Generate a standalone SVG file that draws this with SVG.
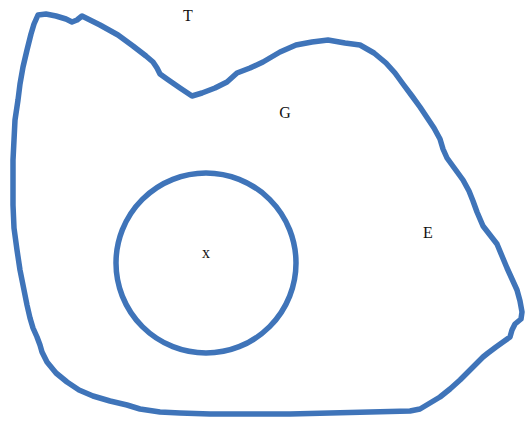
<svg xmlns="http://www.w3.org/2000/svg" width="526" height="421" viewBox="0 0 526 421">
<style>
.ln{fill:none;stroke:#3f74b9;stroke-width:5.5;stroke-linejoin:round;stroke-linecap:round}
.lb{font-family:"Liberation Serif",serif;font-size:16px;fill:#111;text-anchor:middle}
</style>
<rect width="526" height="421" fill="#fff"/>
<g id="T-region">
<path class="ln" d="M38,15 L46,14 L56,16 L66,19 L72,22 L77,20 L82,16 L90,20 L100,25 L118,35 L133,46 L146,56 L153,62 L157,68 L160,74 L167,79 L180,88 L192,96 L202,93 L215,88 L227,82 L237,73 L250,68 L263,62 L280,52 L296,45 L312,42 L328,40 L345,43 L360,45 L374,53 L386,63 L395,73 L403,84 L412,96 L420,107 L428,119 L434,128 L440,139 L443,149 L447,158 L455,169 L463,180 L469,191 L473,201 L477,212 L483,226 L490,235 L497,244 L502,256 L507,268 L512,279 L517,290 L520,301 L522,312 L521,319 L515,324 L512,330 L510,337 L503,342 L496,347 L488,353 L483,357 L477,363 L470,370 L460,380 L450,389 L440,397 L430,403 L420,409 L410,411 L370,412 L330,413 L290,414 L250,414 L210,414 L180,413 L160,412 L140,409 L127,405 L110,401 L93,396 L79,390 L67,382 L56,373 L47,362 L42,352 L40,345 L37,337 L33,328 L30,318 L27,305 L24,290 L20,270 L17,250 L14,228 L13,205 L13,180 L13,160 L14,140 L15,120 L18,100 L20,84 L23,67 L27,50 L31,34 L34,24 Z"/>
<text class="lb" x="188" y="21">T</text>
<text class="lb" x="285" y="118">G</text>
<text class="lb" x="428" y="238">E</text>
</g>
<g id="x-region">
<circle class="ln" cx="206" cy="263" r="90"/>
<text class="lb" x="206" y="258">x</text>
</g>
<g id="connectors"></g>
</svg>
